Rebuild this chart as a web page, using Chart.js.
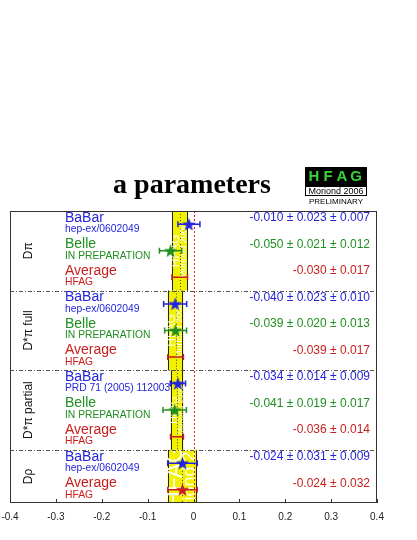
<!DOCTYPE html>
<html>
<head>
<meta charset="utf-8">
<script src="https://cdn.jsdelivr.net/npm/chart.js@4.4.1/dist/chart.umd.min.js"></script>
<style>
	html, body { margin: 0; padding: 0; background: #fff; }
	canvas { display: block; }
</style>
</head>
<body>
<canvas id="canvas0" width="417" height="540"></canvas>
<script>
// One entry per row, top to bottom
var sections = ['D\u03c0', 'D*\u03c0 full', 'D*\u03c0 partial', 'D\u03c1'];
var rowSection = [0, 0, 0, 1, 1, 1, 2, 2, 2, 3, 3];
var experiments = ['BaBar', 'Belle', 'Average', 'BaBar', 'Belle', 'Average', 'BaBar', 'Belle', 'Average', 'BaBar', 'Average'];
var references = ['hep-ex/0602049', 'IN PREPARATION', 'HFAG', 'hep-ex/0602049', 'IN PREPARATION', 'HFAG',
	'PRD 71 (2005) 112003', 'IN PREPARATION', 'HFAG', 'hep-ex/0602049', 'HFAG'];
var centralValues = [-0.010, -0.050, -0.030, -0.040, -0.039, -0.039, -0.034, -0.041, -0.036, -0.024, -0.024];
var statErrors = [0.023, 0.021, 0.017, 0.023, 0.020, 0.017, 0.014, 0.019, 0.014, 0.031, 0.032];
var systErrors = [0.007, 0.012, null, 0.010, 0.013, null, 0.009, 0.017, null, 0.009, null];
var showStar = [true, true, false, true, true, false, true, true, false, true, true];
var xTickValues = [-0.4, -0.3, -0.2, -0.1, 0, 0.1, 0.2, 0.3, 0.4];
var xTickLabels = ['-0.4', '-0.3', '-0.2', '-0.1', '0', '0.1', '0.2', '0.3', '0.4'];

var colors = { BaBar: '#2424dc', Belle: '#1f8f1f', Average: '#c81e1e' };
var sans = "'Liberation Sans', Arial, Helvetica, sans-serif";

function totalError(i) {
	let s = systErrors[i] || 0;
	return Math.sqrt(statErrors[i] * statErrors[i] + s * s);
}

function valueText(i) {
	let t = centralValues[i].toFixed(3) + ' \u00b1 ' + statErrors[i].toFixed(3);
	if(systErrors[i] !== null)
		t += ' \u00b1 ' + systErrors[i].toFixed(3);
	return t;
}

function sectionRows(s) {
	let first = rowSection.indexOf(s), last = rowSection.lastIndexOf(s);
	return [first, last + 1];
}

// Filled five point star used as point style
function makeStar(color) {
	let c = document.createElement('canvas');
	c.width = 15; c.height = 15;
	let g = c.getContext('2d');
	g.beginPath();
	for(let k = 0; k < 10; k++) {
		let r = (k % 2 === 0) ? 7 : 2.9;
		let a = -Math.PI / 2 + k * Math.PI / 5;
		let px = 7.5 + r * Math.cos(a), py = 8 + r * Math.sin(a);
		if(k === 0) g.moveTo(px, py); else g.lineTo(px, py);
	}
	g.closePath();
	g.fillStyle = color;
	g.fill();
	return c;
}

function pointsFor(name) {
	let pts = [];
	experiments.forEach((e, i) => {
		if(e === name && showStar[i])
			pts.push({ x: centralValues[i], y: i + 0.5 });
	});
	return pts;
}

var backgroundPlugin = {
	id: 'hfagBackground',
	beforeDatasetsDraw: function(chart) {
		let ctx = chart.ctx, xs = chart.scales.x, ys = chart.scales.y, area = chart.chartArea;
		ctx.save();
		// Average bands per section
		sections.forEach((name, s) => {
			let rows = sectionRows(s);
			let avg = -1;
			for(let i = rows[0]; i < rows[1]; i++)
				if(experiments[i] === 'Average') avg = i;
			let x1 = xs.getPixelForValue(centralValues[avg] - statErrors[avg]);
			let x2 = xs.getPixelForValue(centralValues[avg] + statErrors[avg]);
			let xc = xs.getPixelForValue(centralValues[avg]);
			let y1 = ys.getPixelForValue(rows[0]), y2 = ys.getPixelForValue(rows[1]);
			ctx.fillStyle = '#f2f200';
			ctx.fillRect(x1, y1, x2 - x1, y2 - y1);
			ctx.strokeStyle = '#222';
			ctx.lineWidth = 1;
			ctx.beginPath();
			ctx.moveTo(Math.round(x1) + 0.5, y1); ctx.lineTo(Math.round(x1) + 0.5, y2);
			ctx.moveTo(Math.round(x2) - 0.5, y1); ctx.lineTo(Math.round(x2) - 0.5, y2);
			ctx.stroke();
			ctx.setLineDash([1, 2]);
			ctx.strokeStyle = '#444';
			ctx.beginPath();
			ctx.moveTo(Math.round(xc) + 0.5, y1); ctx.lineTo(Math.round(xc) + 0.5, y2);
			ctx.stroke();
			ctx.setLineDash([]);
			// Watermark inside the band
			let w = x2 - x1;
			ctx.save();
			ctx.beginPath();
			ctx.rect(x1, y1, w, y2 - y1);
			ctx.clip();
			ctx.fillStyle = 'rgba(255,255,255,0.9)';
			ctx.textAlign = 'center';
			ctx.textBaseline = 'middle';
			let ym = (y1 + y2) / 2;
			ctx.save();
			ctx.translate(x1 + w * 0.26, ym);
			ctx.rotate(-Math.PI / 2);
			ctx.font = Math.round(w * 0.8) + 'px ' + sans;
			ctx.fillText('HFAG', 0, 0);
			ctx.restore();
			ctx.save();
			ctx.translate(x1 + w * 0.76, ym);
			ctx.rotate(-Math.PI / 2);
			ctx.font = Math.round(w * 0.6) + 'px ' + sans;
			ctx.fillText('Moriond 2006', 0, 0);
			ctx.restore();
			ctx.restore();
		});
		// Section separators
		ctx.strokeStyle = '#555';
		ctx.lineWidth = 1;
		ctx.setLineDash([4, 2, 1, 2]);
		for(let s = 1; s < sections.length; s++) {
			let y = Math.round(ys.getPixelForValue(sectionRows(s)[0])) + 0.5;
			ctx.beginPath();
			ctx.moveTo(area.left, y); ctx.lineTo(area.right, y);
			ctx.stroke();
		}
		// Zero line
		ctx.strokeStyle = '#d42020';
		ctx.setLineDash([2, 2]);
		let x0 = Math.round(xs.getPixelForValue(0)) + 0.5;
		ctx.beginPath();
		ctx.moveTo(x0, area.top); ctx.lineTo(x0, area.bottom);
		ctx.stroke();
		ctx.setLineDash([]);
		// Error bars
		ctx.lineWidth = 1.5;
		experiments.forEach((e, i) => {
			let y = ys.getPixelForValue(i + 0.5);
			let a = xs.getPixelForValue(centralValues[i] - totalError(i));
			let b = xs.getPixelForValue(centralValues[i] + totalError(i));
			ctx.strokeStyle = colors[e];
			ctx.beginPath();
			ctx.moveTo(a, y); ctx.lineTo(b, y);
			ctx.moveTo(a, y - 3); ctx.lineTo(a, y + 3);
			ctx.moveTo(b, y - 3); ctx.lineTo(b, y + 3);
			ctx.stroke();
		});
		// Frame and inner ticks
		ctx.strokeStyle = '#333';
		ctx.lineWidth = 1;
		ctx.strokeRect(Math.round(area.left) + 0.5, Math.round(area.top) + 0.5,
			Math.round(area.right - area.left) - 1, Math.round(area.bottom - area.top) - 1);
		ctx.beginPath();
		xTickValues.forEach(v => {
			let x = Math.round(xs.getPixelForValue(v)) + 0.5;
			ctx.moveTo(x, area.bottom); ctx.lineTo(x, area.bottom - 4);
		});
		ctx.stroke();
		ctx.restore();
	},
	afterDraw: function(chart) {
		let ctx = chart.ctx, ys = chart.scales.y, area = chart.chartArea;
		ctx.save();
		// Row labels and values
		experiments.forEach((e, i) => {
			let y = ys.getPixelForValue(i + 0.5);
			ctx.fillStyle = colors[e];
			ctx.textBaseline = 'middle';
			ctx.textAlign = 'left';
			ctx.font = '14px ' + sans;
			ctx.fillText(e, 65, y - 6.5);
			ctx.font = '10.3px ' + sans;
			ctx.fillText(references[i], 65, y + 5);
			ctx.textAlign = 'right';
			ctx.font = '12px ' + sans;
			ctx.fillText(valueText(i), area.right - 7, y - 6.5);
		});
		// Section names
		ctx.fillStyle = '#111';
		ctx.font = '12px ' + sans;
		ctx.textAlign = 'center';
		sections.forEach((name, s) => {
			let rows = sectionRows(s);
			let ym = (ys.getPixelForValue(rows[0]) + ys.getPixelForValue(rows[1])) / 2;
			ctx.save();
			ctx.translate(29, ym);
			ctx.rotate(-Math.PI / 2);
			ctx.fillText(name, 0, 0);
			ctx.restore();
		});
		// Title
		ctx.fillStyle = '#000';
		ctx.textBaseline = 'alphabetic';
		ctx.font = "bold 28px 'Liberation Serif', 'Times New Roman', serif";
		ctx.fillText('a parameters', 192, 193);
		// HFAG logo
		ctx.fillStyle = '#000';
		ctx.fillRect(305, 167, 62, 19);
		ctx.fillStyle = '#36d236';
		ctx.font = 'bold 15px ' + sans;
		ctx.textBaseline = 'middle';
		['H', 'F', 'A', 'G'].forEach((ch, k) => ctx.fillText(ch, 314 + k * 14, 177));
		ctx.fillStyle = '#fff';
		ctx.fillRect(305, 186, 62, 10);
		ctx.strokeStyle = '#000';
		ctx.strokeRect(305.5, 186.5, 61, 9);
		ctx.fillStyle = '#000';
		ctx.font = '9px ' + sans;
		ctx.fillText('Moriond 2006', 336, 191.5);
		ctx.font = '8px ' + sans;
		ctx.fillText('PRELIMINARY', 336, 202);
		ctx.restore();
	}
};

var chartJsOptions = {
	type: 'scatter',
	data: {
		datasets: [
			{ label: 'BaBar', data: pointsFor('BaBar'), pointStyle: makeStar(colors.BaBar) },
			{ label: 'Belle', data: pointsFor('Belle'), pointStyle: makeStar(colors.Belle) },
			{ label: 'Average', data: pointsFor('Average'), pointStyle: makeStar(colors.Average) }
		]
	},
	options: {
		responsive: false,
		animation: false,
		layout: {
			padding: { left: 10, right: 40, top: 211, bottom: 9 }
		},
		scales: {
			x: {
				type: 'linear',
				min: -0.4,
				max: 0.4,
				afterBuildTicks: function(scale) {
					scale.ticks = xTickValues.map(v => ({ value: v }));
				},
				afterFit: function(scale) {
					// let the end labels hang over the frame like the original
					scale.paddingLeft = 0;
					scale.paddingRight = 0;
				},
				ticks: {
					padding: 8,
					color: '#222',
					font: { family: sans, size: 10 },
					callback: function(v) {
						let k = xTickValues.indexOf(v);
						return k >= 0 ? xTickLabels[k] : '';
					}
				},
				grid: { display: false, drawTicks: false },
				border: { display: false }
			},
			y: {
				type: 'linear',
				min: 0,
				max: experiments.length,
				reverse: true,
				display: false
			}
		},
		plugins: {
			legend: { display: false },
			tooltip: { enabled: false }
		}
	},
	plugins: [backgroundPlugin]
};

var chart = new Chart(document.getElementById('canvas0').getContext('2d'), chartJsOptions);
</script>
</body>
</html>
